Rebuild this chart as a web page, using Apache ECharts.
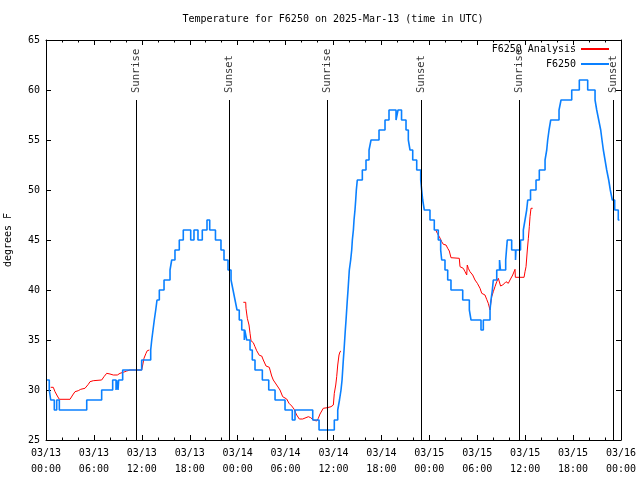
<!DOCTYPE html>
<html>
<head>
<meta charset="utf-8">
<script src="https://cdn.jsdelivr.net/npm/echarts@6/dist/echarts.min.js"></script>
<style>html,body{margin:0;padding:0;background:#fff}#c{width:640px;height:480px}</style>
</head>
<body>
<div id="c"></div>
<script>
// hours since 03/13 00:00 UTC
var xTickLabels = ['03/13\n00:00','03/13\n06:00','03/13\n12:00','03/13\n18:00','03/14\n00:00','03/14\n06:00','03/14\n12:00','03/14\n18:00','03/15\n00:00','03/15\n06:00','03/15\n12:00','03/15\n18:00','03/16\n00:00'];
var eventNames = ['Sunrise','Sunset','Sunrise','Sunset','Sunrise','Sunset'];
var eventHours = [11.3, 22.96, 35.23, 47.0, 59.27, 71.04];

// F6250 observations (value holds from each time until the next)
var blueData = [
[0.13,31],[0.41,30],[0.59,29],[1.04,28],[1.34,29],[1.67,28],[5.10,29],[6.97,30],[8.35,31],[8.77,30],[8.85,31],[9.02,30],[9.10,31],[9.60,32],[11.98,33],
[13.11,34],[13.24,35],[13.40,36],[13.56,37],[13.74,38],[13.90,39],[14.19,40],[14.78,41],[15.53,42],[15.74,43],[16.15,44],[16.69,45],[17.19,46],
[18.12,45],[18.53,46],[19.03,45],[19.57,46],[20.16,47],[20.50,46],[21.22,45],[21.91,44],[22.29,43],[22.79,42],[23.17,41],[23.42,40],[23.67,39],[23.92,38],
[24.20,37],[24.51,36],[24.83,35],[24.89,36],[25.13,35],[25.55,34],[25.83,33],[26.17,32],[27.09,31],[27.89,30],[28.68,29],[29.93,28],[30.84,27],[31.18,28],
[33.40,27],[34.19,26],[36.10,27],[36.53,28],[36.75,29],[36.94,30],[37.07,31],[37.15,32],[37.23,33],[37.32,34],[37.40,35],[37.48,36],[37.57,37],[37.65,38],
[37.73,39],[37.82,40],[37.90,41],[37.98,42],[38.15,43],[38.28,44],[38.36,45],[38.49,46],[38.57,47],[38.69,48],[38.78,49],[38.86,50],[38.98,51],[39.61,52],
[40.07,53],[40.45,54],[40.70,55],[41.70,56],[42.45,57],[42.95,58],[43.83,57],[44.08,58],[44.52,57],[45.08,56],[45.37,55],[45.58,54],[45.92,53],[46.42,52],
[46.92,51],[47.04,50],[47.17,49],[47.37,48],[48.08,47],[48.62,46],[49.12,45],[49.42,44],[49.55,43],[49.96,42],[50.30,41],[50.71,40],[52.18,39],[53.01,38],
[53.22,37],[54.47,36],[54.76,37],[55.60,38],[55.72,39],[55.89,40],[56.01,41],[56.44,42],[56.79,43],[56.91,42],[57.56,43],[57.66,44],[57.76,45],[58.31,44],
[58.79,43],[58.85,44],[59.42,45],[59.77,46],[59.98,47],[60.19,48],[60.32,49],[60.67,50],[61.36,51],[61.77,52],[62.49,53],[62.70,54],[62.82,55],[62.99,56],
[63.20,57],[64.24,58],[64.49,59],[65.83,60],[66.78,61],[67.83,60],[68.75,59],[68.96,58],[69.21,57],[69.46,56],[69.62,55],[69.79,54],[70.00,53],[70.21,52],
[70.46,51],[70.66,50],[70.91,49],[71.21,48],[71.66,47],[71.81,47]
];

// F6250 Analysis, three separate runs
var redRun1 = [
[0.59,30.27],[0.91,30.27],[1.13,29.83],[1.42,29.4],[1.67,29.07],[3.01,29.07],[3.34,29.5],[3.63,29.83],[4.04,29.93],[4.35,30.07],[4.88,30.17],[5.10,30.33],
[5.30,30.57],[5.51,30.83],[5.92,30.93],[6.97,31.0],[7.26,31.33],[7.60,31.67],[8.01,31.6],[8.43,31.5],[8.93,31.5],[9.27,31.67],[9.68,31.77],[10.10,31.9],
[10.52,32.0],[11.98,32.0],[12.11,32.5],[12.27,33.17],[12.52,33.67],[12.68,33.93],[12.94,34.0]
];
var redRun2 = [
[24.71,38.77],[25.01,38.77],[25.04,38.17],[25.21,37.17],[25.42,36.5],[25.55,35.67],[25.67,34.93],[25.96,34.73],[26.17,34.33],[26.38,33.93],[26.71,33.47],
[27.01,33.4],[27.21,33.0],[27.55,32.4],[27.96,32.27],[28.26,31.4],[28.46,31.0],[28.80,30.6],[29.01,30.5],[29.30,30.0],[29.64,29.33],[30.14,29.1],[30.43,28.67],
[30.77,28.4],[31.05,28.1],[31.39,27.5],[31.72,27.1],[32.14,27.1],[32.34,27.23],[32.85,27.33],[33.15,27.23],[33.47,27.0],[33.90,26.9],[34.10,27.17],[34.31,27.6],
[34.72,28.17],[35.22,28.23],[35.69,28.33],[35.98,28.5],[36.10,29.67],[36.28,30.5],[36.40,31.33],[36.53,32.5],[36.69,33.5],[36.82,33.83],[36.94,33.9]
];
var redRun3 = [
[48.80,46.0],[49.00,45.67],[49.25,45.33],[49.55,44.83],[49.75,44.57],[50.09,44.5],[50.30,44.17],[50.50,43.9],[50.71,43.23],[50.80,43.17],[51.75,43.17],
[51.84,42.33],[52.25,42.17],[52.47,41.83],[52.68,41.5],[52.75,42.5],[52.88,42.17],[53.09,41.83],[53.43,41.5],[53.72,41.0],[54.01,40.67],[54.35,40.17],
[54.56,39.67],[54.76,39.73],[54.97,39.5],[55.18,39.07],[55.38,38.67],[55.60,38.0],[55.69,38.67],[55.81,39.33],[56.01,39.83],[56.22,40.33],[56.44,40.83],
[56.64,41.17],[56.77,41.27],[56.92,40.4],[57.19,40.5],[57.60,40.83],[57.89,40.67],[58.10,41.0],[58.44,41.5],[58.73,42.07],[58.77,41.27],[59.86,41.27],
[59.98,41.83],[60.11,42.33],[60.27,44.0],[60.40,45.17],[60.52,46.33],[60.61,47.33],[60.73,48.17],[60.94,48.17]
];

var FONT = 'DejaVu Sans Mono';
var redData = redRun1.concat([[18, '-']], redRun2, [[42, '-']], redRun3);

var chart = echarts.init(document.getElementById('c'), null, {renderer: 'canvas'});

function xAxisBase(pos, showLabel) {
  return {
    type: 'value', position: pos, min: 0, max: 72, interval: 6,
    axisLine: {show: true, onZero: false, lineStyle: {color: '#000', width: 1}},
    axisTick: {show: true, inside: true, length: 5, lineStyle: {color: '#000'}},
    minorTick: {show: true, splitNumber: 3, length: 2.5, lineStyle: {color: '#000'}},
    splitLine: {show: false},
    axisLabel: {
      show: showLabel, margin: 5, color: '#000', fontFamily: FONT, fontSize: 10, lineHeight: 16,
      formatter: function (v) { return xTickLabels[Math.round(v / 6)]; }
    }
  };
}
function yAxisBase(pos, showLabel) {
  return {
    type: 'value', position: pos, min: 25, max: 65, interval: 5,
    axisLine: {show: true, onZero: false, lineStyle: {color: '#000', width: 1}},
    axisTick: {show: true, inside: true, length: 5, lineStyle: {color: '#000'}},
    splitLine: {show: false},
    axisLabel: {show: showLabel, margin: 6, color: '#000', fontFamily: FONT, fontSize: 10}
  };
}

var yLeft = yAxisBase('left', true);
yLeft.name = 'degrees F';
yLeft.nameLocation = 'middle';
yLeft.nameGap = 33;
yLeft.nameTextStyle = {color: '#000', fontFamily: FONT, fontSize: 10};

chart.setOption({
  animation: false,
  backgroundColor: '#fff',
  title: {
    text: 'Temperature for F6250 on 2025-Mar-13 (time in UTC)',
    left: 333, top: 14, textAlign: 'center', padding: 0,
    textStyle: {color: '#000', fontFamily: FONT, fontSize: 10, fontWeight: 'normal'}
  },
  legend: {
    data: ['F6250 Analysis', 'F6250'],
    orient: 'vertical', align: 'right', right: 30, top: 44,
    itemWidth: 28, itemHeight: 10, itemGap: 5, padding: 0,
    itemStyle: {color: 'rgba(0,0,0,0)', borderWidth: 0, opacity: 0},
    textStyle: {color: '#000', fontFamily: FONT, fontSize: 10}
  },
  grid: {left: 46, right: 19, top: 40, bottom: 40, containLabel: false, outerBoundsMode: 'none'},
  xAxis: [xAxisBase('bottom', true), xAxisBase('top', false)],
  yAxis: [yLeft, yAxisBase('right', false)],
  series: [
    {
      name: 'F6250 Analysis', type: 'line', data: redData, showSymbol: false, symbol: 'none',
      connectNulls: false, lineStyle: {color: '#ff0000', width: 1}, itemStyle: {color: '#ff0000'}
    },
    {
      name: 'F6250', type: 'line', data: blueData, step: 'end', showSymbol: false, symbol: 'none',
      lineStyle: {color: '#0a80ff', width: 1.6}, itemStyle: {color: '#0a80ff'}
    },
    {
      name: 'events', type: 'scatter', symbolSize: 0, silent: true,
      data: eventHours.map(function (t, i) { return {name: eventNames[i], value: [t, 59]}; }),
      label: {
        show: true, formatter: '{b}', rotate: 90, position: [0, -7], align: 'left', verticalAlign: 'middle',
        color: '#000', fontFamily: FONT, fontSize: 10.5
      },
      markLine: {
        silent: true, symbol: 'none', label: {show: false},
        lineStyle: {color: '#000', width: 1, type: 'solid'},
        data: eventHours.map(function (t) { return [{coord: [t, 59]}, {coord: [t, 25]}]; })
      }
    }
  ]
});
</script>
</body>
</html>
